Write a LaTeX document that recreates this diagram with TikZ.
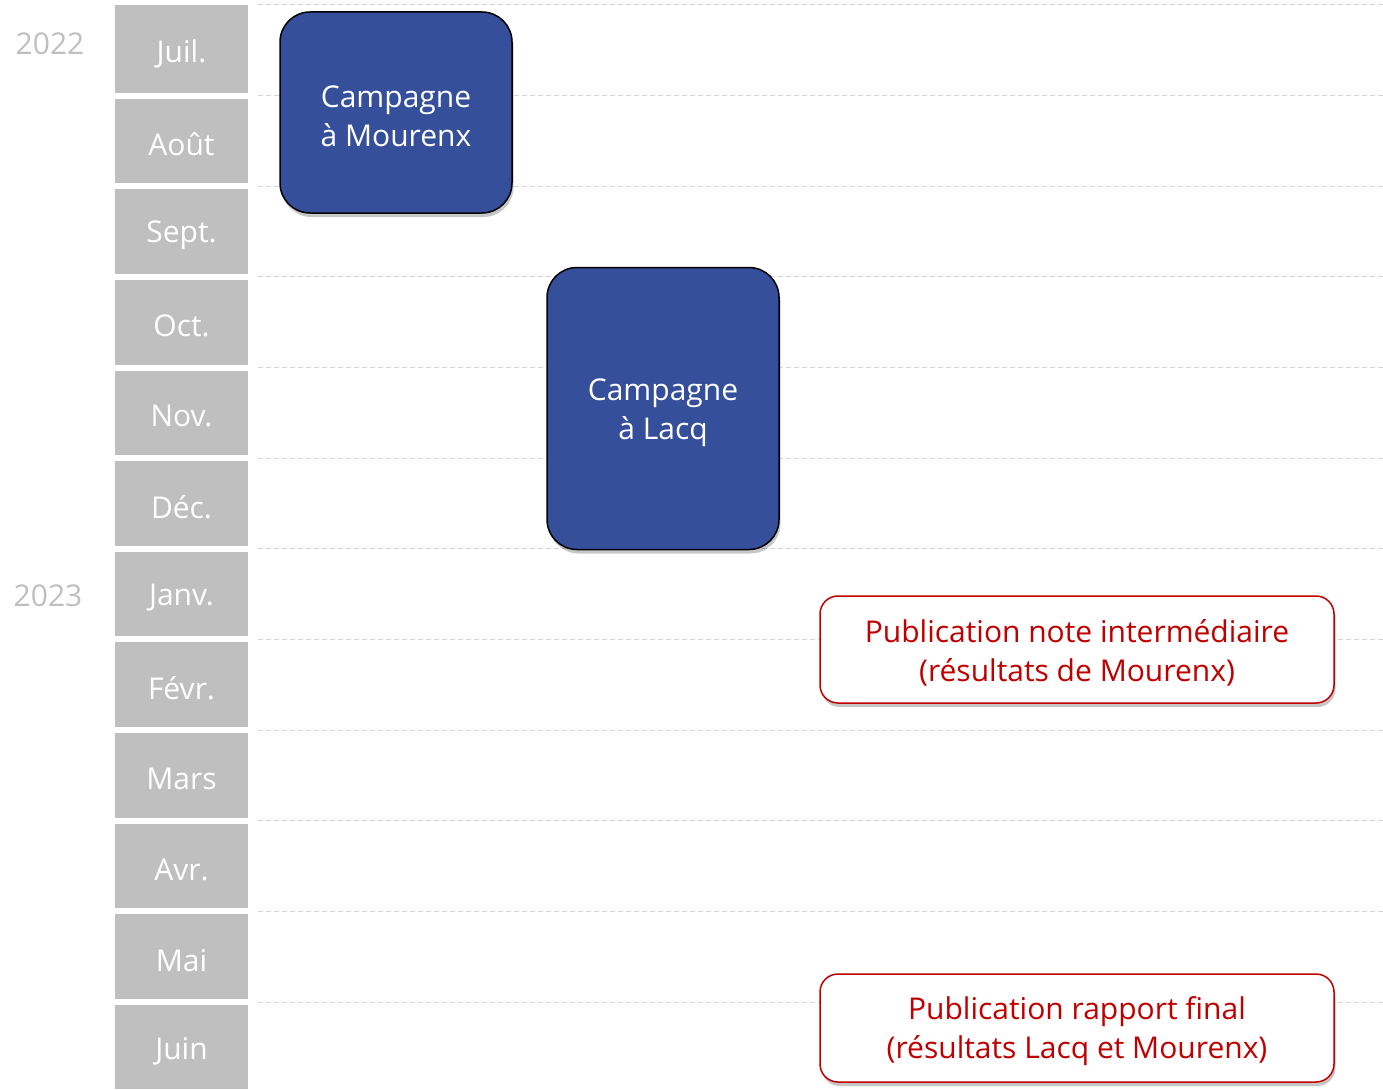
\documentclass[tikz,border=0pt]{standalone}
\usepackage{fontspec}
\setmainfont{Open Sans}
\usetikzlibrary{shadows}
\definecolor{monthgray}{HTML}{BFBFBF}
\definecolor{gridgray}{HTML}{D4D4D4}
\definecolor{campblue}{HTML}{364F9B}
\definecolor{pubred}{HTML}{C00000}
\tikzset{
  monthbox/.style={fill=monthgray, minimum width=133pt, inner sep=0pt},
  monthtext/.style={text=white, inner sep=0pt, font=\fontsize{30}{36}\selectfont},
  yearlabel/.style={text=monthgray, inner sep=0pt, font=\fontsize{30}{36}\selectfont},
  gridline/.style={draw=gridgray, line width=1pt, dash pattern=on 5pt off 3pt},
  softshadow/.style={general shadow={fill=black, opacity=0.22, shadow xshift=1.5pt, shadow yshift=-4pt}},
  campbox/.style={fill=campblue, draw=black, line width=1.5pt, rounded corners=30pt,
    inner sep=0pt, softshadow},
  camptext/.style={text=white, align=center, inner sep=0pt,
    font=\fontsize{30}{39}\selectfont},
  pubbox/.style={fill=white, draw=pubred, line width=1.5pt, rounded corners=18pt,
    inner sep=0pt, softshadow},
  pubtext/.style={text=pubred, align=center, inner sep=0pt,
    font=\fontsize{30}{39}\selectfont},
}
\begin{document}
\begin{tikzpicture}[x=1pt,y=-1pt]
\useasboundingbox (0,0) rectangle (1383,1089);
% grid lines
\foreach \k in {0,...,11}{
  \pgfmathsetmacro{\yy}{5+90.64*\k}
  \coordinate (gl\k) at (258,\yy);
  \coordinate (gr\k) at (1383,\yy);
  \draw[gridline] (gl\k) -- (gr\k);
}
% month boxes
\foreach \m [count=\k from 0] in {Juil.,Août,Sept.,Oct.,Nov.,Déc.,Janv.,Févr.,Mars,Avr.,Mai,Juin}{
  \pgfmathsetmacro{\top}{ifthenelse(\k==0,5,5+90.64*\k+3)}
  \pgfmathsetmacro{\bot}{ifthenelse(\k==11,1089,5+90.64*(\k+1)-3)}
  \pgfmathsetmacro{\hh}{\bot-\top}
  \pgfmathsetmacro{\cy}{5+90.64*(\k+0.5)+3.5}
  \path[fill=monthgray] (115,\top) rectangle (248,\bot);
  \node[monthtext] (m\k) at (181.5,\cy) {\m};
}
% years
\node[yearlabel] (y2022) at (50,44) {2022};
\node[yearlabel] (y2023) at (48,596) {2023};
% campaigns
\node[campbox, minimum width=232pt, minimum height=201pt] (mourenx) at (396,112.5) {};
\node[camptext, yshift=-3.5pt] (mourenxt) at (mourenx.center) {Campagne\\à Mourenx};
\node[campbox, minimum width=232pt, minimum height=282pt] (lacq) at (663,408.5) {};
\node[camptext, yshift=-4pt] (lacqt) at (lacq.center) {Campagne\\à Lacq};
% publications
\node[pubbox, minimum width=514pt, minimum height=107pt] (note) at (1077,649.5) {};
\node[pubtext, yshift=-3pt] (notet) at (note.center)
  {Publication note intermédiaire\\(résultats de Mourenx)};
\node[pubbox, minimum width=514pt, minimum height=108pt] (final) at (1077,1028) {};
\node[pubtext, yshift=-3.5pt] (finalt) at (final.center)
  {Publication rapport final\\(résultats Lacq et Mourenx)};
\end{tikzpicture}
\end{document}
